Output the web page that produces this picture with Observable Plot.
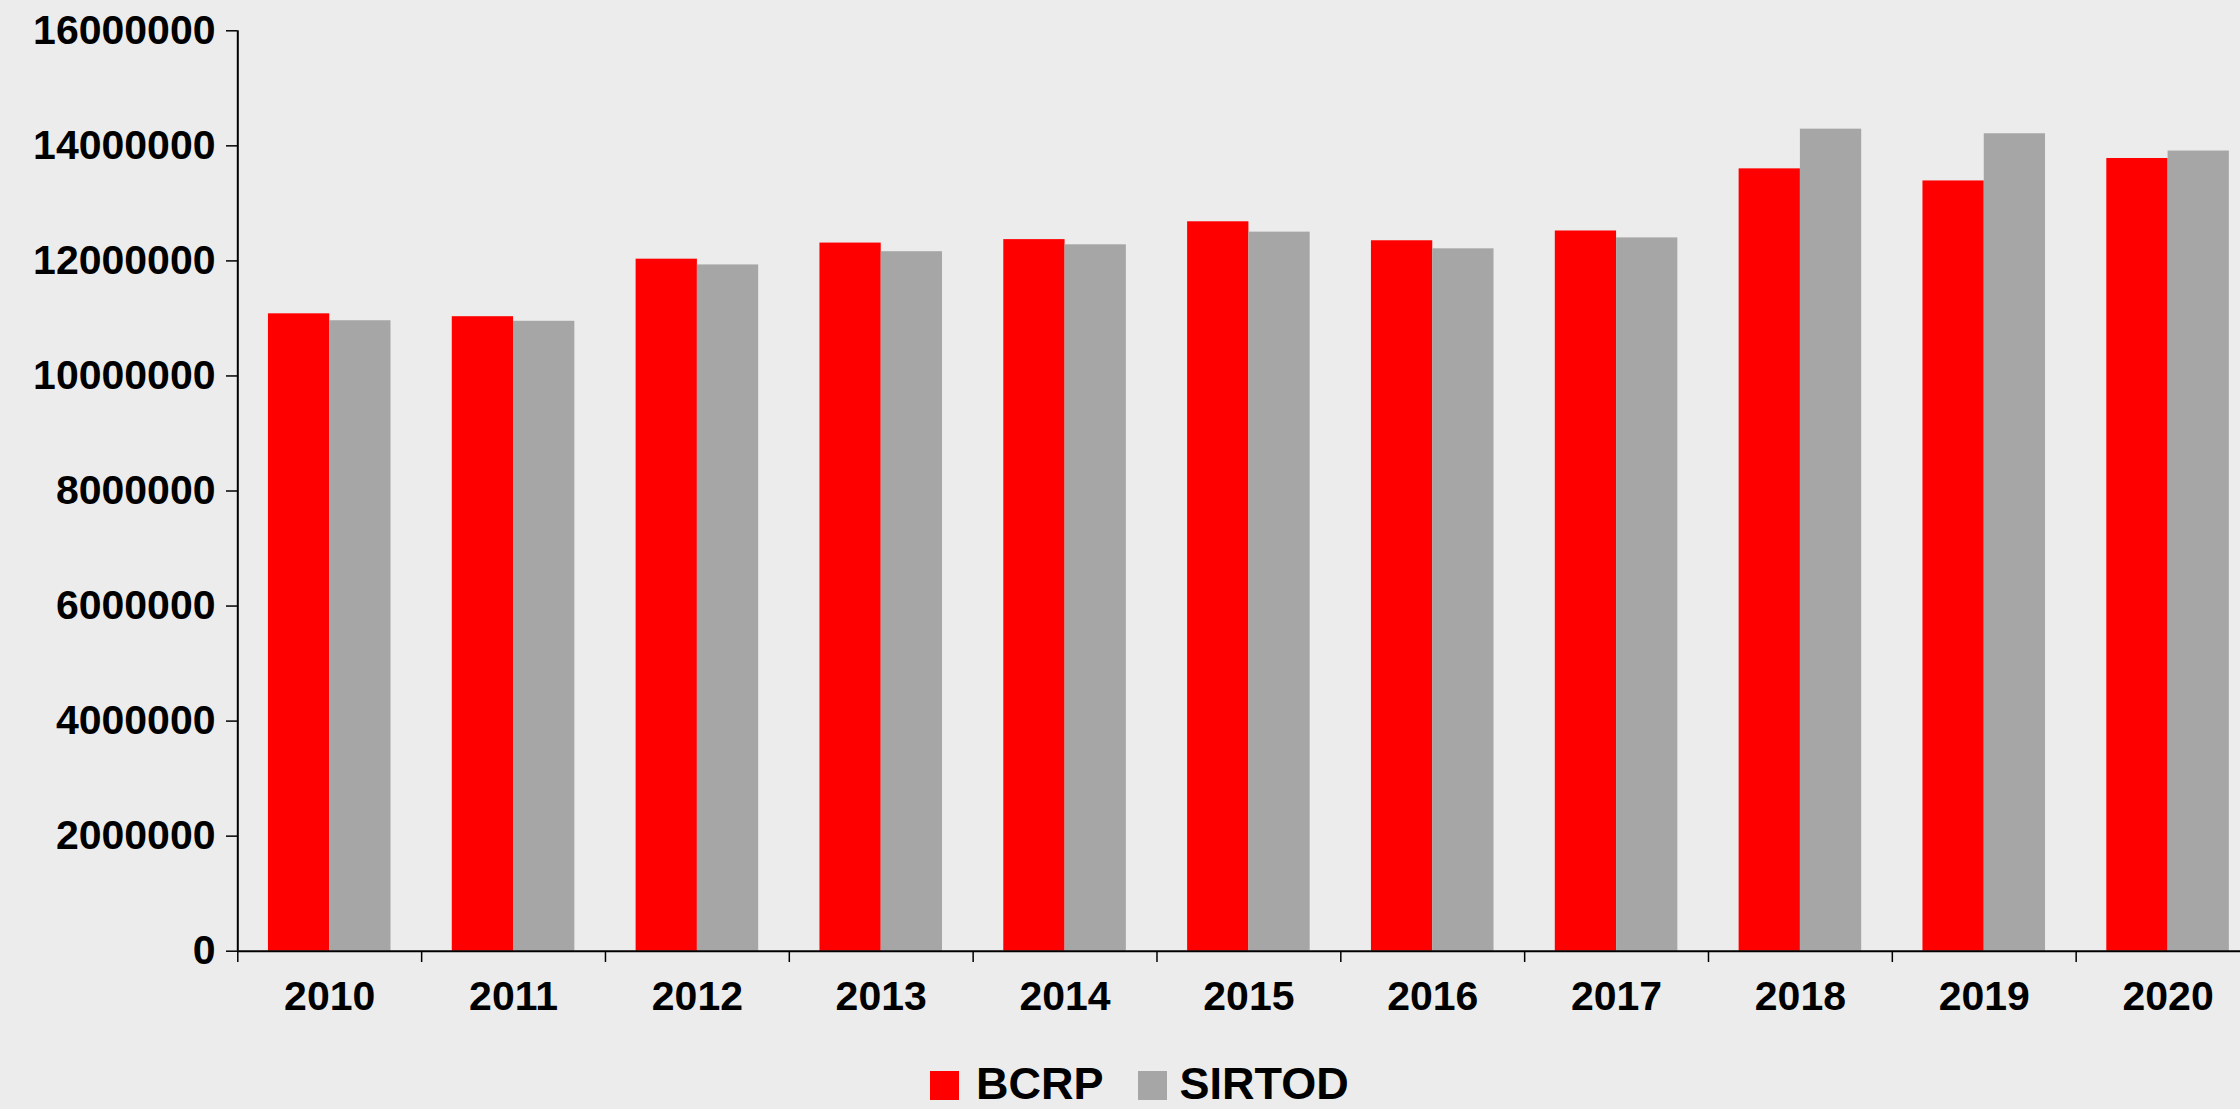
<!DOCTYPE html>
<html>
<head>
<meta charset="utf-8">
<script src="https://cdn.jsdelivr.net/npm/d3@7"></script>
<script src="https://cdn.jsdelivr.net/npm/@observablehq/plot@0.6"></script>
<style>
  html, body { margin: 0; padding: 0; overflow: hidden; background: #ececec; }
  #wrap { position: relative; width: 2240px; height: 1109px; }
  #chart svg { display: block; }
  #legend { position: absolute; left: 930px; top: 1061px; display: flex; align-items: flex-start;
            font-family: "Liberation Sans", Arial, sans-serif; font-weight: bold; font-size: 45px; line-height: 1; color: #000; }
  .sw { width: 29px; height: 29px; margin-top: 10px; }
</style>
</head>
<body>
<div id="wrap">
  <div id="chart"></div>
  <div id="legend"></div>
</div>
<script>
const years  = ["2010","2011","2012","2013","2014","2015","2016","2017","2018","2019","2020"];
const series = ["BCRP", "SIRTOD"];
const colors = ["#ff0000", "#a6a6a6"];
const bcrp   = [11080000, 11030000, 12030000, 12310000, 12370000, 12680000, 12350000, 12520000, 13600000, 13390000, 13780000];
const sirtod = [10960000, 10950000, 11930000, 12160000, 12280000, 12500000, 12210000, 12400000, 14290000, 14210000, 13910000];
const yTicks = [0, 2000000, 4000000, 6000000, 8000000, 10000000, 12000000, 14000000, 16000000];

const data = years.map((year, i) => ({year, BCRP: bcrp[i], SIRTOD: sirtod[i]}));

const W = 2240, H = 1040;
const xRange = [237.3, 2259.5];
const bw = (xRange[1] - xRange[0]) / years.length;   // band width
const barW = bw / 3;                                  // each bar
const outer = bw / 6;                                 // side gap

const font = '"Liberation Sans", Arial, sans-serif';

const chart = Plot.plot({
  width: W,
  height: H,
  marginLeft: 237,
  marginRight: 0,
  marginTop: 30,
  marginBottom: 89,
  x: {type: "band", domain: years, range: xRange, padding: 0, round: false, axis: null},
  y: {domain: [0, 16000000], range: [950.7, 30.3], axis: null},
  style: {fontFamily: font, fontSize: "41px", fontWeight: "bold", background: "transparent", color: "#000", overflow: "hidden"},
  marks: [
    Plot.barY(data, {x: "year", y: "BCRP", fill: colors[0], insetLeft: outer, insetRight: bw - outer - barW}),
    Plot.barY(data, {x: "year", y: "SIRTOD", fill: colors[1], insetLeft: outer + barW, insetRight: outer}),
    Plot.ruleX([years[0]], {x: d => d, y1: 0, y2: 16000000, dx: -bw / 2, stroke: "#000", strokeWidth: 2}),
    Plot.ruleY([0], {stroke: "#000", strokeWidth: 2}),
    Plot.axisY({ticks: yTicks, tickSize: 11, tickPadding: 11, tickFormat: d3.format("d"), label: null, stroke: "#000", strokeWidth: 1.5}),
    Plot.axisX({tickSize: 11, tickFormat: () => "", dx: -bw / 2, label: null, stroke: "#000", strokeWidth: 1.5}),
    Plot.axisX({tickSize: 0, tickPadding: 29, label: null})
  ]
});
document.getElementById("chart").appendChild(chart);

const legend = document.getElementById("legend");
series.forEach((s, i) => {
  const sw = document.createElement("div");
  sw.className = "sw";
  sw.style.background = colors[i];
  sw.style.marginRight = i === 0 ? "17px" : "13px";
  const lab = document.createElement("span");
  lab.textContent = s;
  if (i === 0) lab.style.marginRight = "34px";
  legend.appendChild(sw);
  legend.appendChild(lab);
});
</script>
</body>
</html>
